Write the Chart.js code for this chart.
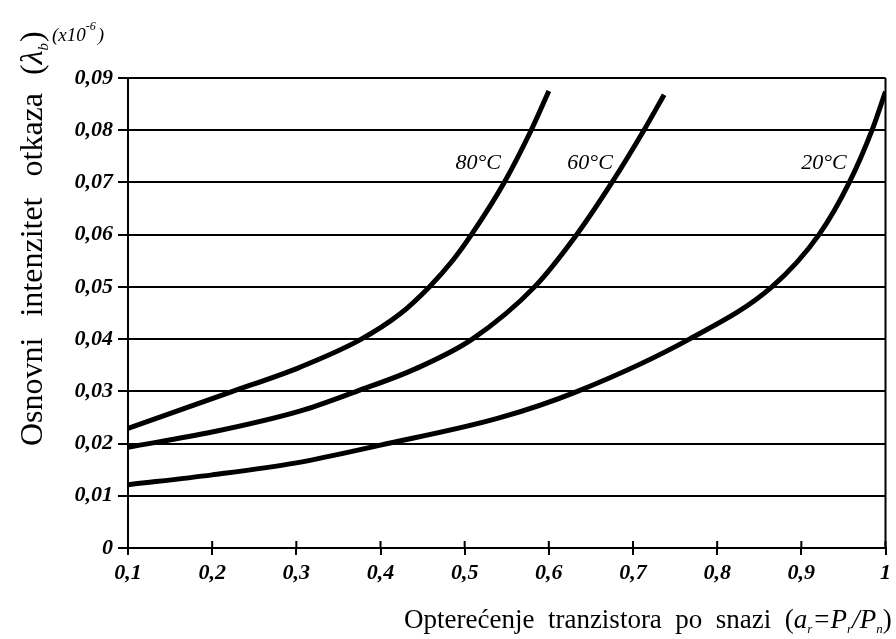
<!DOCTYPE html>
<html><head><meta charset="utf-8">
<script src="https://cdn.jsdelivr.net/npm/chart.js@4/dist/chart.umd.min.js"></script>
<style>html,body{margin:0;padding:0;background:#fff}#wrap{width:896px;height:639px}</style>
</head><body><div id="wrap"><canvas id="c" width="896" height="639"></canvas></div>
<script>
const x80 = [0.1, 0.221, 0.304, 0.375, 0.423, 0.458, 0.4855, 0.508, 0.547, 0.579, 0.6];
const y80 = [0.0229, 0.0298, 0.0346, 0.0398, 0.0448, 0.05, 0.055, 0.06, 0.07, 0.08, 0.0875];
const x60 = [0.1, 0.2, 0.304, 0.3716, 0.4428, 0.509, 0.583, 0.633, 0.675, 0.713, 0.737];
const y60 = [0.0193, 0.0222, 0.0262, 0.03, 0.0344, 0.04, 0.05, 0.06, 0.07, 0.08, 0.0868];
const x20 = [0.1, 0.2, 0.3, 0.4, 0.541, 0.634, 0.767, 0.865, 0.921, 0.957, 0.984, 1.0];
const y20 = [0.0121, 0.014, 0.0163, 0.0197, 0.0249, 0.03, 0.04, 0.05, 0.06, 0.07, 0.08, 0.0874];
const seriesNames = ['80°C', '60°C', '20°C'];
const labelX = [0.516, 0.649, 0.927];
const labelY = [0.0736, 0.0736, 0.0736];
const xTicks = ['0,1','0,2','0,3','0,4','0,5','0,6','0,7','0,8','0,9','1'];
const yTicks = ['0','0,01','0,02','0,03','0,04','0,05','0,06','0,07','0,08','0,09'];

const pts = (xs, ys) => xs.map((x, i) => ({x, y: ys[i]}));
const serif = '"Liberation Serif", "DejaVu Serif", serif';

function drawParts(ctx, parts, x0, y0) {
  let xx = x0;
  parts.forEach(([s, f, dy, gap]) => {
    ctx.font = f + ' ' + serif;
    ctx.fillText(s, xx, y0 + dy);
    xx += ctx.measureText(s).width + (gap || 0);
  });
}

const decor = {
  id: 'decor',
  afterDraw(chart) {
    const {ctx, chartArea: a, scales: {x, y}} = chart;
    ctx.save();
    ctx.strokeStyle = '#000';
    ctx.lineWidth = 2;
    ctx.beginPath();
    ctx.moveTo(a.right, a.top); ctx.lineTo(a.right, a.bottom);
    ctx.stroke();
    ctx.beginPath();
    for (let i = 0; i < xTicks.length; i++) {
      const px = x.getPixelForValue(0.1 + i * 0.1);
      ctx.moveTo(px, a.bottom); ctx.lineTo(px, a.bottom - 7);
    }
    ctx.stroke();
    ctx.fillStyle = '#000';
    ctx.textBaseline = 'middle';
    ctx.textAlign = 'center';
    ctx.font = 'italic 22px ' + serif;
    seriesNames.forEach((n, i) => {
      ctx.fillText(n, x.getPixelForValue(labelX[i]), y.getPixelForValue(labelY[i]));
    });
    ctx.textAlign = 'left';
    ctx.textBaseline = 'alphabetic';
    drawParts(ctx, [['(x10', 'italic 19px', 0], ['-6', 'italic 12px', -11, 2], [')', 'italic 19px', 0]], 52, 41);
    ctx.save();
    ctx.translate(42, 446);
    ctx.rotate(-Math.PI / 2);
    drawParts(ctx, [
      ['Osnovni', '32px', 0, 21], ['intenzitet', '32px', 0, 21], ['otkaza', '32px', 0, 18], ['(', '32px', 0],
      ['λ', 'italic 32px', 0], ['b', 'italic 15px', 6, 1],
      [')', '32px', 0]
    ], 0, 0);
    ctx.restore();
    drawParts(ctx, [
      ['Opterećenje  tranzistora  po  snazi  (', '27px', 0],
      ['a', 'italic 27px', 0], ['r', 'italic 13px', 5],
      ['=P', 'italic 27px', 0], ['r', 'italic 13px', 5],
      ['/P', 'italic 27px', 0], ['n', 'italic 13px', 5],
      [')', '27px', 0]
    ], 404, 628);
    ctx.restore();
  }
};

new Chart(document.getElementById('c'), {
  type: 'line',
  data: {
    datasets: [
      {label: seriesNames[0], data: pts(x80, y80)},
      {label: seriesNames[1], data: pts(x60, y60)},
      {label: seriesNames[2], data: pts(x20, y20)}
    ].map(d => Object.assign(d, {borderColor: '#000', borderWidth: 5, pointRadius: 0, cubicInterpolationMode: 'monotone', fill: false, borderCapStyle: 'butt'}))
  },
  options: {
    responsive: false,
    animation: false,
    devicePixelRatio: 1,
    layout: {padding: {left: 0, right: 9, top: 78, bottom: 0}},
    plugins: {legend: {display: false}, tooltip: {enabled: false}},
    scales: {
      x: {
        type: 'linear', min: 0.1, max: 1,
        afterFit(s) { s.height = 91; },
        afterBuildTicks(s) { s.ticks = xTicks.map((_, i) => ({value: +(0.1 + i * 0.1).toFixed(1)})); },
        ticks: {
          color: '#000', padding: 5, maxRotation: 0, autoSkip: false,
          font: {family: serif, size: 22, style: 'italic', weight: 'bold'},
          callback: (v, i) => xTicks[i]
        },
        grid: {drawOnChartArea: false, color: '#000', lineWidth: 2, tickLength: 7},
        border: {color: '#000', width: 2}
      },
      y: {
        type: 'linear', min: 0, max: 0.09,
        afterFit(s) { s.width = 128; },
        afterBuildTicks(s) { s.ticks = yTicks.map((_, i) => ({value: +(i * 0.01).toFixed(2)})); },
        ticks: {
          color: '#000', padding: 5, autoSkip: false,
          font: {family: serif, size: 22, style: 'italic', weight: 'bold'},
          callback: (v, i) => yTicks[i]
        },
        grid: {color: '#000', lineWidth: 2, tickLength: 10},
        border: {color: '#000', width: 2}
      }
    }
  },
  plugins: [decor]
});
</script></body></html>
